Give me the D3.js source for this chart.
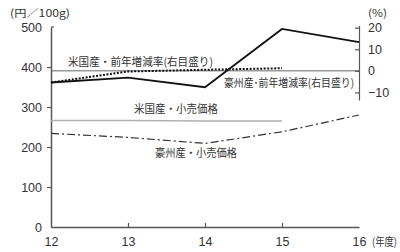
<!DOCTYPE html>
<html>
<head>
<meta charset="utf-8">
<script src="https://cdn.jsdelivr.net/npm/d3@7"></script>
<style>
  body { margin: 0; background: #fff; }
  svg { display: block; font-family: "Noto Sans CJK JP", "Noto Sans", sans-serif; }
</style>
</head>
<body>
<div id="chart"></div>
<script>
// data
var years = [12, 13, 14, 15, 16];
var ausRate = [-5.4, -3.1, -7.6, 19.4, 13.3];      // 豪州産・前年増減率 (右目盛り)
var usRate = [-5.4, -0.3, 0.5, 1.2];               // 米国産・前年増減率 (右目盛り)
var usPrice = [266, 266, 265, 265];                // 米国産・小売価格
var ausPrice = [234, 224, 209, 238, 280];          // 豪州産・小売価格
var leftTicks = [0, 100, 200, 300, 400, 500];
var rightTicks = [-10, 0, 10, 20];

var svg = d3.select("#chart").append("svg")
    .attr("width", 400)
    .attr("height", 252);

var x = d3.scaleLinear().domain([12, 16]).range([51, 359]);
var yL = d3.scaleLinear().domain([0, 500]).range([227, 27]);
var yR = d3.scaleLinear().domain([-13.5, 21]).range([100, 25.5]);

var axisColor = "#555";
var textColor = "#333";

// zero line of right scale
svg.append("line")
    .attr("x1", x(12)).attr("x2", x(16))
    .attr("y1", yR(0)).attr("y2", yR(0))
    .style("stroke", "#999")
    .style("stroke-width", 1.5);

// left axis
var gL = svg.append("g")
    .attr("transform", "translate(" + x(12) + ",0)")
    .call(d3.axisLeft(yL).tickValues(leftTicks).tickSize(4).tickSizeOuter(0).tickPadding(5));
gL.select(".domain").style("stroke", axisColor).style("stroke-width", 1.5);
gL.selectAll(".tick line").style("stroke", axisColor).style("stroke-width", 1.2);
gL.selectAll(".tick text")
    .style("font-size", "12.5px")
    .style("fill", textColor)
    .style("font-family", "'Liberation Sans', sans-serif");
gL.selectAll(".tick").filter(function (d) { return d === 0 || d === 500; }).select("line").remove();
gL.append("line").attr("x1", 0).attr("x2", 3).attr("y1", yL(500)).attr("y2", yL(500))
    .style("stroke", axisColor).style("stroke-width", 1.2);

// bottom axis
var gB = svg.append("g")
    .attr("transform", "translate(0," + yL(0) + ")")
    .call(d3.axisBottom(x).tickValues(years).tickSize(-4).tickSizeOuter(0).tickPadding(10).tickFormat(d3.format("d")));
gB.select(".domain").style("stroke", axisColor).style("stroke-width", 1.5);
gB.selectAll(".tick line").style("stroke", axisColor).style("stroke-width", 1.2);
gB.selectAll(".tick").filter(function (d) { return d === 12 || d === 16; }).select("line").remove();
gB.selectAll(".tick text")
    .style("font-size", "12.5px")
    .style("fill", textColor)
    .style("font-family", "'Liberation Sans', sans-serif");

// right axis
var gR = svg.append("g")
    .attr("transform", "translate(" + x(16) + ",0)")
    .call(d3.axisRight(yR).tickValues(rightTicks).tickSize(-4).tickSizeOuter(0).tickPadding(9));
gR.select(".domain").style("stroke", axisColor).style("stroke-width", 1.2);
gR.selectAll(".tick line").style("stroke", axisColor).style("stroke-width", 1.2);
gR.selectAll(".tick text")
    .style("font-size", "12.5px")
    .style("fill", textColor)
    .style("font-family", "'Liberation Sans', sans-serif");

// lines
var lineL = d3.line().x(function (d, i) { return x(years[i]); }).y(function (d) { return yL(d); });
var lineR = d3.line().x(function (d, i) { return x(years[i]); }).y(function (d) { return yR(d); });

svg.append("path").datum(usPrice)
    .attr("d", lineL)
    .style("fill", "none").style("stroke", "#b0b0b0").style("stroke-width", 1.5);

svg.append("path").datum(ausPrice)
    .attr("d", lineL)
    .style("fill", "none").style("stroke", "#333").style("stroke-width", 1.2)
    .style("stroke-dasharray", "8,3,2,3");

svg.append("path").datum(usRate)
    .attr("d", lineR)
    .style("fill", "none").style("stroke", "#111").style("stroke-width", 2)
    .style("stroke-dasharray", "2,1.5");

svg.append("path").datum(ausRate)
    .attr("d", lineR)
    .style("fill", "none").style("stroke", "#111").style("stroke-width", 1.8);

// annotations
function label(txt, x0, y0, len, size) {
    svg.append("text")
        .attr("x", x0).attr("y", y0)
        .attr("dy", "0.35em")
        .attr("textLength", len)
        .attr("lengthAdjust", "spacingAndGlyphs")
        .style("font-size", size + "px")
        .style("fill", textColor)
        .text(txt);
}
label("(円／100g)", 10, 13, 60, 10.5);
label("(%)", 368, 13, 19, 10.5);
label("米国産・前年増減率(右目盛り)", 68, 62, 145, 11);
label("豪州産･前年増減率(右目盛り)", 224, 83, 130, 11);
label("米国産・小売価格", 134, 109, 84, 11);
label("豪州産・小売価格", 155, 153, 82, 11);
label("(年度)", 372, 242, 25, 11);
</script>
</body>
</html>
